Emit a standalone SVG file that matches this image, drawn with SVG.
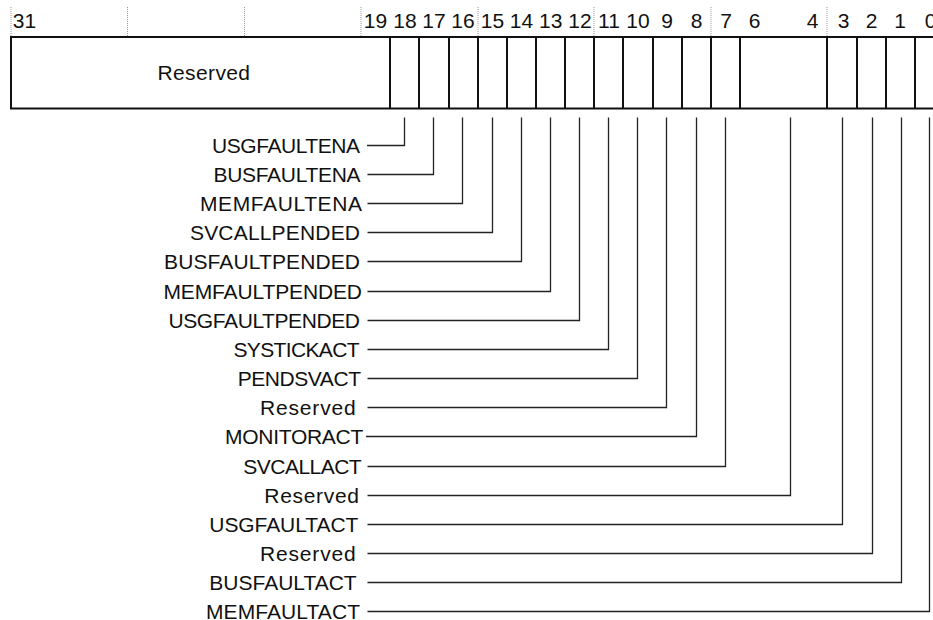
<svg xmlns="http://www.w3.org/2000/svg" width="933" height="620" viewBox="0 0 933 620">
<style>
text{font-family:"Liberation Sans",Arial,sans-serif;font-size:21px;fill:#111}
.num{text-anchor:middle}
.lbl{text-anchor:end}
.dot{stroke:#999;stroke-width:1;stroke-dasharray:1 1}
.cell{stroke:#111;stroke-width:2;fill:none}
.con{stroke:#222;stroke-width:1.3;fill:none}
</style>
<rect width="933" height="620" fill="#fff"/>
<g id="ruler">
<line class="dot" x1="11" y1="7" x2="11" y2="36"/>
<line class="dot" x1="127.5" y1="7" x2="127.5" y2="36"/>
<line class="dot" x1="244.5" y1="7" x2="244.5" y2="36"/>
<line class="dot" x1="361" y1="7" x2="361" y2="36"/>
<line class="dot" x1="478" y1="7" x2="478" y2="36"/>
<line class="dot" x1="594" y1="7" x2="594" y2="36"/>
<line class="dot" x1="711" y1="7" x2="711" y2="36"/>
<line class="dot" x1="827" y1="7" x2="827" y2="36"/>
<text class="num" x="24.5" y="28">31</text>
<text class="num" x="375.5" y="28">19</text>
<text class="num" x="405" y="28">18</text>
<text class="num" x="434" y="28">17</text>
<text class="num" x="463" y="28">16</text>
<text class="num" x="492.5" y="28">15</text>
<text class="num" x="521.5" y="28">14</text>
<text class="num" x="550.7" y="28">13</text>
<text class="num" x="580" y="28">12</text>
<text class="num" x="609" y="28">11</text>
<text class="num" x="638" y="28">10</text>
<text class="num" x="667" y="28">9</text>
<text class="num" x="696.5" y="28">8</text>
<text class="num" x="726" y="28">7</text>
<text class="num" x="754.5" y="28">6</text>
<text class="num" x="812.5" y="28">4</text>
<text class="num" x="843.5" y="28">3</text>
<text class="num" x="871.5" y="28">2</text>
<text class="num" x="900" y="28">1</text>
<text class="num" x="930.5" y="28">0</text>
</g>
<g id="register">
<rect class="cell" x="11" y="37" width="933" height="71.5" fill="#fff"/>
<path class="cell" d="M390 37V108.5M419 37V108.5M449 37V108.5M478 37V108.5M507 37V108.5M536 37V108.5M565 37V108.5M594 37V108.5M623 37V108.5M653 37V108.5M682 37V108.5M711 37V108.5M740 37V108.5M827 37V108.5M857 37V108.5M886 37V108.5M915 37V108.5"/>
<text x="157.5" y="79.5" textLength="92.5" lengthAdjust="spacing">Reserved</text>
</g>
<g id="connectors">
<path class="con" d="M367 145.5H404.5V117.5"/>
<path class="con" d="M367.5 174.5H433.5V117.5"/>
<path class="con" d="M367.5 203.5H462.5V117.5"/>
<path class="con" d="M367.5 232.5H492.5V117.5"/>
<path class="con" d="M367.5 261.5H521.5V117.5"/>
<path class="con" d="M367.5 291.5H550.5V117.5"/>
<path class="con" d="M367.5 320.5H579.5V117.5"/>
<path class="con" d="M367.5 349.5H608.5V117.5"/>
<path class="con" d="M367.5 378.5H637.5V117.5"/>
<path class="con" d="M367.5 407.5H666.5V117.5"/>
<path class="con" d="M366 436.5H696.5V117.5"/>
<path class="con" d="M367.5 466.5H725.5V117.5"/>
<path class="con" d="M367.5 495.5H790.5V117.5"/>
<path class="con" d="M367.5 524.5H842.5V117.5"/>
<path class="con" d="M367.5 553.5H872.5V117.5"/>
<path class="con" d="M367.5 582.5H901.5V117.5"/>
<path class="con" d="M367.5 611.5H929.5V117.5"/>
</g>
<g id="usgfaultena"><text class="lbl" x="360" y="152.5" textLength="148" lengthAdjust="spacing">USGFAULTENA</text></g>
<g id="busfaultena"><text class="lbl" x="360.5" y="181.5" textLength="147" lengthAdjust="spacing">BUSFAULTENA</text></g>
<g id="memfaultena"><text class="lbl" x="362" y="210.5" textLength="162" lengthAdjust="spacing">MEMFAULTENA</text></g>
<g id="svcallpended"><text class="lbl" x="360" y="239.5" textLength="170" lengthAdjust="spacing">SVCALLPENDED</text></g>
<g id="busfaultpended"><text class="lbl" x="360" y="268.5" textLength="196" lengthAdjust="spacing">BUSFAULTPENDED</text></g>
<g id="memfaultpended"><text class="lbl" x="362" y="298.5" textLength="198.5" lengthAdjust="spacing">MEMFAULTPENDED</text></g>
<g id="usgfaultpended"><text class="lbl" x="360" y="327.5" textLength="191.5" lengthAdjust="spacing">USGFAULTPENDED</text></g>
<g id="systickact"><text class="lbl" x="359.5" y="356.5" textLength="126" lengthAdjust="spacing">SYSTICKACT</text></g>
<g id="pendsvact"><text class="lbl" x="361" y="385.5" textLength="123.3" lengthAdjust="spacing">PENDSVACT</text></g>
<g id="reserved9"><text class="lbl" x="355.7" y="414.5" textLength="95.7" lengthAdjust="spacing">Reserved</text></g>
<g id="monitoract"><text class="lbl" x="363.3" y="443.5" textLength="138.3" lengthAdjust="spacing">MONITORACT</text></g>
<g id="svcallact"><text class="lbl" x="361.7" y="473.5" textLength="118.4" lengthAdjust="spacing">SVCALLACT</text></g>
<g id="reserved6_4"><text class="lbl" x="359" y="502.5" textLength="94.7" lengthAdjust="spacing">Reserved</text></g>
<g id="usgfaultact"><text class="lbl" x="358.3" y="531.5" textLength="149" lengthAdjust="spacing">USGFAULTACT</text></g>
<g id="reserved2"><text class="lbl" x="355.7" y="560.5" textLength="95.7" lengthAdjust="spacing">Reserved</text></g>
<g id="busfaultact"><text class="lbl" x="356.7" y="589.5" textLength="147.4" lengthAdjust="spacing">BUSFAULTACT</text></g>
<g id="memfaultact"><text class="lbl" x="360" y="618.5" textLength="154" lengthAdjust="spacing">MEMFAULTACT</text></g>
</svg>
